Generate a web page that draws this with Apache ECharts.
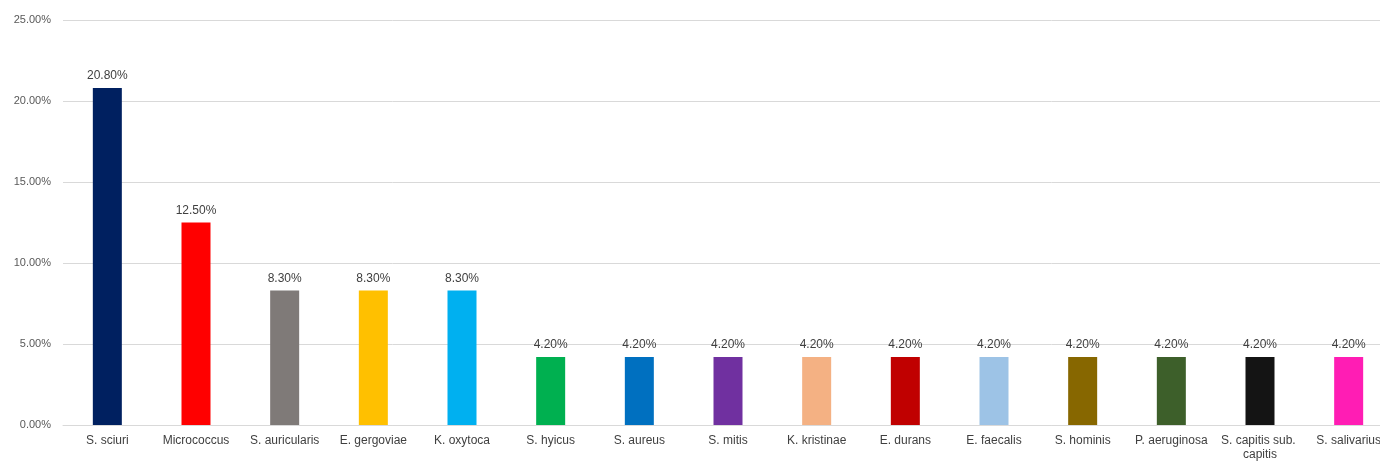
<!DOCTYPE html>
<html>
<head>
<meta charset="utf-8">
<script src="https://cdn.jsdelivr.net/npm/echarts@6/dist/echarts.min.js"></script>
<style>
  html, body { margin: 0; padding: 0; background: #ffffff; }
  #chart { width: 1380px; height: 461px; }
</style>
</head>
<body>
<div id="chart"></div>
<script>
// Isolates by species (share of total, %)
const categories = [
  'S. sciuri', 'Micrococcus', 'S. auricularis', 'E. gergoviae', 'K. oxytoca',
  'S. hyicus', 'S. aureus', 'S. mitis', 'K. kristinae', 'E. durans',
  'E. faecalis', 'S. hominis', 'P. aeruginosa', 'S. capitis sub. capitis', 'S. salivarius'
];
const values = [20.8, 12.5, 8.3, 8.3, 8.3, 4.2, 4.2, 4.2, 4.2, 4.2, 4.2, 4.2, 4.2, 4.2, 4.2];
const barColors = [
  '#002060', '#FF0000', '#7F7A78', '#FFC000', '#00B0F0',
  '#00B050', '#0070C0', '#7030A0', '#F4B183', '#C00000',
  '#9DC3E6', '#876700', '#3D5F2A', '#141414', '#FF1DB4'
];
const yTicks = [0, 5, 10, 15, 20, 25];

const chart = echarts.init(document.getElementById('chart'), null, { renderer: 'canvas' });

chart.setOption({
  animation: false,
  backgroundColor: '#ffffff',
  // plot runs slightly past the right edge of the canvas
  grid: { left: 63, top: 20, right: -13, height: 405, containLabel: false, outerBoundsMode: 'none' },
  xAxis: {
    type: 'category',
    data: categories,
    axisLine: { show: true, lineStyle: { color: '#d9d9d9', width: 1 } },
    axisTick: { show: false },
    axisLabel: {
      interval: 0,
      margin: 9,
      color: '#404040',
      fontFamily: 'Liberation Sans, Arial, sans-serif',
      fontSize: 12,
      width: 88,
      overflow: 'break',
      lineHeight: 14
    }
  },
  yAxis: {
    type: 'value',
    min: yTicks[0],
    max: yTicks[yTicks.length - 1],
    interval: 5,
    axisLine: { show: false },
    axisTick: { show: false },
    splitLine: { show: true, lineStyle: { color: '#d9d9d9', width: 1 } },
    axisLabel: {
      margin: 12,
      color: '#595959',
      fontFamily: 'Liberation Sans, Arial, sans-serif',
      fontSize: 11,
      formatter: v => v.toFixed(2) + '%'
    }
  },
  series: [{
    type: 'bar',
    barWidth: 29,
    data: values.map((v, i) => ({ value: v, itemStyle: { color: barColors[i] } })),
    label: {
      show: true,
      position: 'top',
      distance: 6,
      color: '#404040',
      fontFamily: 'Liberation Sans, Arial, sans-serif',
      fontSize: 12,
      formatter: p => p.value.toFixed(2) + '%'
    }
  }]
});
</script>
</body>
</html>
